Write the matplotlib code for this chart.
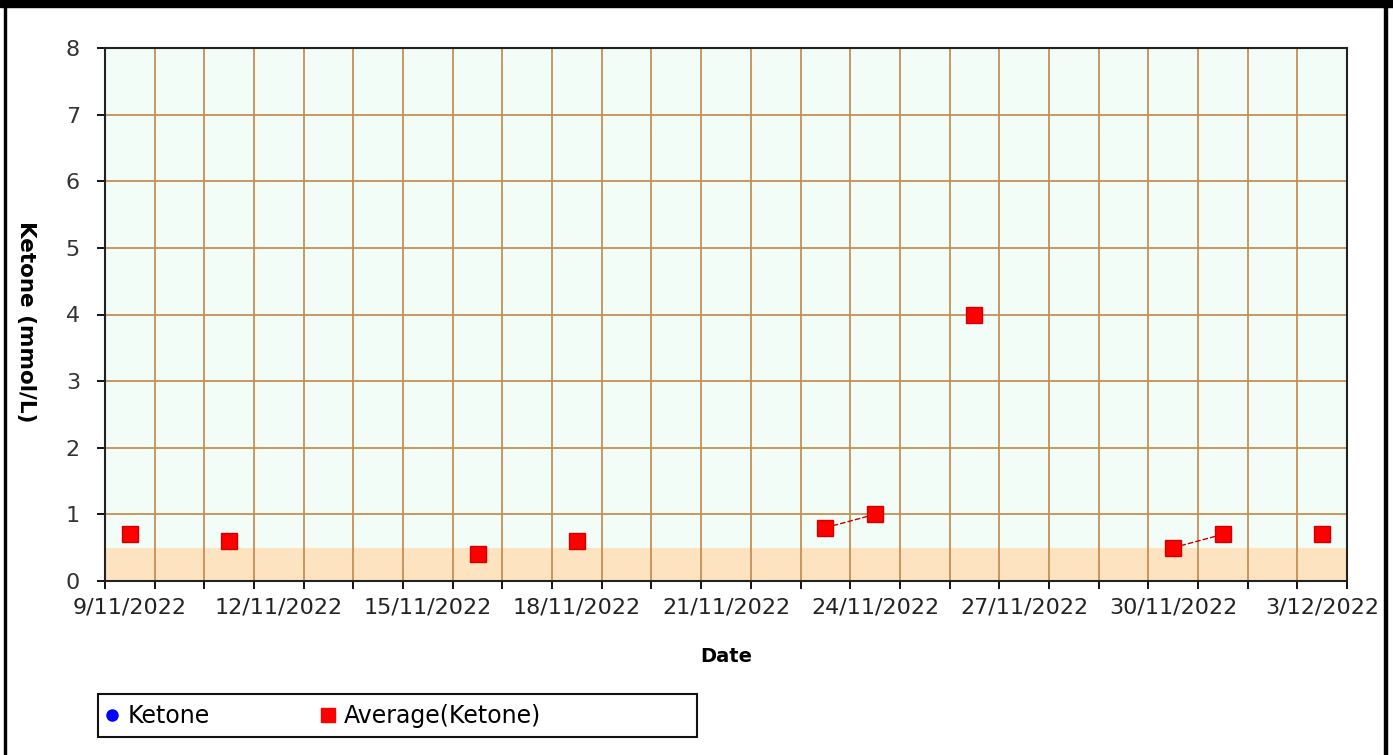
import numpy as np
import pandas as pd
import matplotlib
matplotlib.use('Agg')
import matplotlib.pyplot as plt
import matplotlib.dates as mdates
from matplotlib.patches import Rectangle

plt.rcParams['font.family'] = ['DejaVu Sans']

# data
dates = ['2022-11-09', '2022-11-11', '2022-11-16', '2022-11-18', '2022-11-23',
         '2022-11-24', '2022-11-26', '2022-11-30', '2022-12-01', '2022-12-03']
avg_ketone = [0.7, 0.6, 0.4, 0.6, 0.8, 1.0, 4.0, 0.5, 0.7, 0.7]
ketone = []  # no raw readings shown

x_start = '2022-11-09'
x_end = '2022-12-04'
label_days = pd.date_range('2022-11-09', '2022-12-03', freq='3D')
y_ticks = [0, 1, 2, 3, 4, 5, 6, 7, 8]
low_band = 0.5

# daily series so only consecutive days get joined by a line
s = pd.Series(avg_ketone, index=pd.to_datetime(dates))
s = s.reindex(pd.date_range(x_start, x_end, freq='D'))
xs = s.index + pd.Timedelta(hours=12)

W, H = 1393, 755
fig = plt.figure(figsize=(W/100, H/100), dpi=100)
ax = fig.add_axes([105/W, 1-581/H, 1242/W, 533/H])
ax.set_facecolor('#F2FDF8')

ax.axhspan(0, low_band, color='#FDE3C0', zorder=0, lw=0)

ax.plot(xs, s.values, color='#C00000', lw=1, ls=(0, (4, 1.5)), zorder=3)
ax.plot(xs, s.values, ls='none', marker='s', ms=11, mfc='#FF0000', mec='#D00000',
        zorder=4)

ax.set_xlim(pd.Timestamp(x_start), pd.Timestamp(x_end))
ax.set_ylim(0, 8)
ax.set_yticks(y_ticks)
ax.xaxis.set_major_locator(mdates.DayLocator())
ax.xaxis.set_major_formatter(plt.NullFormatter())
ax.set_xticks(label_days + pd.Timedelta(hours=12), minor=True)
ax.set_xticklabels([f'{d.day}/{d.month}/{d.year}' for d in label_days], minor=True)
ax.tick_params(axis='x', which='minor', length=0, labelsize=16, pad=12,
               labelcolor='#222222')
ax.tick_params(axis='x', which='major', length=6, width=1.3, direction='out')
ax.tick_params(axis='y', length=6, width=1.3, labelsize=16, pad=12,
               labelcolor='#333333')
ax.grid(True, which='major', color='#C49056', lw=1.3, zorder=1)
ax.set_axisbelow(True)
for sp in ax.spines.values():
    sp.set_linewidth(1.5)
    sp.set_color('#222222')

fig.text((105+1347)/2/W, 1-657/H, 'Date', fontsize=14, fontweight='bold',
         ha='center', va='center')
fig.text(26/W, 1-322/H, 'Ketone (mmol/L)', fontsize=15.5, fontweight='bold',
         rotation=-90, ha='center', va='center')

# legend
h1, = ax.plot([], [], ls='none', marker='o', ms=8, color='#0000FF')
h2, = ax.plot([], [], ls='none', marker='s', ms=10, color='#FF0000')
fig.legend([h1, h2], ['Ketone', 'Average(Ketone)'], loc='center left',
           bbox_to_anchor=(103/W, 1-716/H), ncol=2, fontsize=17, frameon=False,
           handletextpad=0.25, handlelength=0.8, columnspacing=4.6,
           borderpad=0, borderaxespad=0)
fig.patches.append(Rectangle((98/W, 1-737/H), 599/W, 43/H, transform=fig.transFigure,
                             fill=False, ec='#111111', lw=1.5, zorder=5))

# outer frame of the picture
fig.patches.append(Rectangle((0, 1-7/H), 1, 7/H, transform=fig.transFigure,
                             color='black', zorder=10))
fig.patches.append(Rectangle((4/W, 0), 2/W, 1, transform=fig.transFigure,
                             color='black', zorder=10))
fig.patches.append(Rectangle((1384/W, 0), 3/W, 1, transform=fig.transFigure,
                             color='black', zorder=10))

fig.savefig('out.png', dpi=100)
